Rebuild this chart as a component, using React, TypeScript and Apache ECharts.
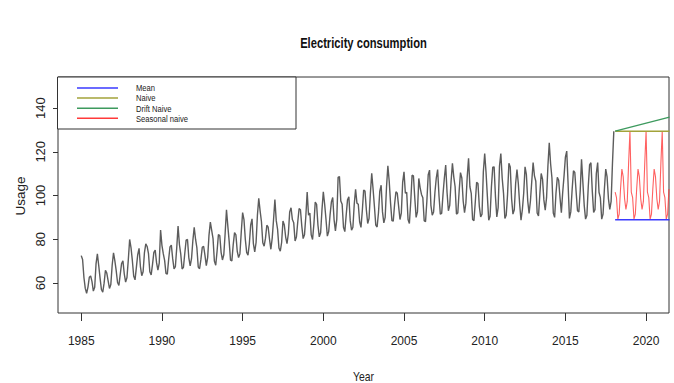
import React, { useEffect, useRef } from "react";
import * as echarts from "echarts";

const startYear = 1985;
const usage1985to1989 = [
  72.5, 70.7, 62.5, 57.5, 55.3, 58.1, 62.6, 63.2, 60.6, 56.3, 58.0, 68.7,
  73.3, 68.0, 62.2, 57.0, 55.8, 59.9, 65.8, 64.5, 61.0, 57.5, 59.3, 68.1,
  73.8, 70.1, 65.6, 60.2, 58.9, 63.9, 68.9, 70.1, 64.1, 60.4, 62.5, 70.6,
  79.9, 76.2, 70.3, 63.2, 61.4, 67.1, 73.0, 75.8, 67.5, 63.3, 65.1, 73.9,
  77.9, 76.7, 73.4, 65.1, 63.7, 68.5, 74.0, 75.0, 69.3, 65.9, 69.1, 84.2,
];
const usage1990to1994 = [
  77.2, 73.4, 70.3, 64.4, 64.0, 70.8, 76.5, 77.3, 71.1, 66.4, 67.5, 76.0,
  86.0, 77.6, 73.2, 66.4, 67.2, 73.6, 79.6, 79.9, 71.5, 67.8, 71.1, 79.4,
  85.4, 80.0, 76.0, 67.3, 66.5, 70.9, 76.3, 76.8, 72.6, 67.9, 71.6, 81.9,
  87.8, 84.0, 80.3, 70.0, 68.1, 74.5, 82.1, 81.7, 74.0, 70.5, 72.9, 82.6,
  93.5, 86.0, 79.0, 70.4, 70.1, 77.5, 83.0, 82.0, 74.5, 71.6, 73.4, 83.4,
];
const usage1995to1999 = [
  92.2, 89.0, 80.0, 74.0, 72.7, 78.0, 86.5, 89.3, 78.0, 74.2, 78.5, 91.0,
  98.7, 93.0, 88.0, 78.4, 76.8, 80.5, 86.4, 85.5, 80.0, 75.4, 80.5, 89.0,
  98.1, 88.5, 84.5, 76.0, 74.5, 78.5, 88.3, 86.5, 81.0, 78.0, 82.5, 92.5,
  94.4, 89.0, 87.5, 79.2, 81.0, 88.0, 94.0, 93.5, 86.0, 80.3, 82.0, 90.5,
  101.6, 91.0, 92.0, 82.0, 79.9, 87.0, 97.0, 96.0, 86.5, 81.1, 83.0, 93.5,
];
const usage2000to2004 = [
  101.7, 96.0, 89.0, 81.4, 83.5, 91.0, 97.0, 99.1, 89.0, 83.8, 89.0, 108.3,
  108.7, 97.5, 96.0, 85.5, 83.5, 91.0, 98.0, 99.4, 88.5, 84.1, 85.5, 96.0,
  102.8, 96.5, 96.0, 88.0, 85.4, 93.0, 102.5, 102.0, 93.5, 87.2, 89.5, 101.0,
  110.1, 103.0, 95.0, 86.5, 85.6, 92.0, 102.0, 104.7, 92.5, 87.5, 90.0, 104.0,
  113.6, 106.5, 96.5, 88.5, 88.3, 96.0, 101.7, 101.0, 95.0, 89.0, 92.0, 106.0,
];
const usage2005to2009 = [
  110.8, 101.0, 101.5, 89.0, 87.2, 97.0, 109.3, 109.0, 99.0, 90.0, 92.5, 107.8,
  103.5, 100.5, 99.0, 88.5, 88.0, 97.5, 109.5, 111.6, 95.5, 91.0, 92.5, 101.5,
  108.0, 111.9, 100.0, 91.5, 91.8, 100.5, 108.0, 113.9, 101.5, 93.0, 95.5, 106.5,
  114.7, 108.5, 104.0, 91.5, 92.0, 102.0, 110.5, 108.0, 97.5, 92.1, 96.5, 108.5,
  117.0, 104.0, 101.0, 89.0, 88.5, 97.0, 106.0, 105.5, 95.0, 90.2, 91.5, 111.0,
];
const usage2010to2014 = [
  119.2, 110.5, 99.5, 88.7, 90.5, 104.0, 113.0, 113.1, 99.5, 90.2, 94.5, 113.5,
  119.2, 108.0, 101.0, 89.5, 91.0, 100.5, 114.7, 113.0, 98.5, 91.5, 93.5, 105.5,
  111.9, 105.5, 96.0, 88.7, 93.5, 101.0, 113.1, 109.5, 97.5, 91.8, 97.5, 106.5,
  115.1, 109.0, 106.5, 92.0, 90.6, 100.5, 110.1, 107.5, 98.0, 93.3, 99.0, 113.5,
  124.1, 114.5, 108.0, 92.0, 90.0, 101.0, 108.3, 107.0, 99.0, 92.1, 101.5, 109.0,
];
const usage2015to2018 = [
  117.5, 120.3, 105.5, 89.5, 92.5, 102.5, 111.3, 110.5, 101.5, 93.0, 92.5, 102.0,
  116.6, 106.0, 95.5, 89.2, 91.0, 104.0, 114.0, 115.0, 102.0, 92.3, 93.5, 110.0,
  115.1, 101.5, 99.0, 89.2, 91.5, 103.0, 112.1, 108.5, 98.6, 93.6, 97.3, 114.7,
  129.4,
];

const xTicks = [1985, 1990, 1995, 2000, 2005, 2010, 2015, 2020];
const yTicks = [60, 80, 100, 120, 140];
const legendLabels = ["Mean", "Naive", "Drift Naive", "Seasonal naive"];
const legendColors = ["#3a3aff", "#a3a33a", "#3d9a5e", "#ff3a3a"];

const forecastStart = 2018 + 1 / 12;
const forecastEnd = 2021.45;
const forecastMonths = 41;
const meanLevel = 88.9;
const naiveLevel = 129.4;
const driftEndLevel = 135.9;
const seasonalNaiveCycle = [101.5, 99.0, 89.2, 91.5, 103.0, 112.1, 108.5, 98.6, 93.6, 97.3, 114.7, 129.4];

const FONT = "'Liberation Sans', Arial, sans-serif";

export default function App() {
  const ref = useRef<HTMLDivElement>(null);
  useEffect(() => {
    if (!ref.current) return;
    const chart = echarts.init(ref.current, null, { renderer: "svg" });
    const usage = [
      ...usage1985to1989,
      ...usage1990to1994,
      ...usage1995to1999,
      ...usage2000to2004,
      ...usage2005to2009,
      ...usage2010to2014,
      ...usage2015to2018,
    ];
    const mainData = usage.map((v, i) => [startYear + i / 12, v]);
    const seasonalData: number[][] = [];
    for (let k = 0; k < forecastMonths; k++) {
      seasonalData.push([forecastStart + k / 12, seasonalNaiveCycle[k % 12]]);
    }
    const legendY = [88, 98, 108.3, 118.3];
    const legendChildren: any[] = [
      {
        type: "rect",
        shape: { x: 57.5, y: 77, width: 238.5, height: 52 },
        style: { fill: "#fff", stroke: "#333", lineWidth: 1 },
      },
    ];
    legendLabels.forEach((lab, i) => {
      legendChildren.push({
        type: "line",
        shape: { x1: 77, y1: legendY[i], x2: 118, y2: legendY[i] },
        style: { stroke: legendColors[i], lineWidth: 1.6 },
      });
      legendChildren.push({
        type: "text",
        x: 136,
        y: legendY[i],
        scaleX: 0.8,
        style: {
          text: lab,
          fill: "#222",
          font: `9.5px ${FONT}`,
          textVerticalAlign: "middle",
          verticalAlign: "middle",
        },
      });
    });

    const option: any = {
      animation: false,
      backgroundColor: "#ffffff",
      grid: {
        left: 58,
        top: 77,
        right: 5,
        bottom: 70,
        show: true,
        borderColor: "#333",
        borderWidth: 1,
        backgroundColor: "transparent",
        containLabel: false,
      },
      xAxis: {
        type: "value",
        min: 1983.56,
        max: 2021.42,
        splitLine: { show: false },
        axisLine: { show: false },
        axisTick: {
          show: true,
          customValues: xTicks,
          length: 8,
          lineStyle: { color: "#333", width: 1 },
        },
        axisLabel: {
          customValues: xTicks,
          margin: 22,
          fontSize: 12,
          fontFamily: FONT,
          color: "#222",
          formatter: (v: number) => String(v),
        },
      },
      yAxis: {
        type: "value",
        min: 46.26,
        max: 154.2,
        splitLine: { show: false },
        axisLine: { show: false },
        axisTick: {
          show: true,
          customValues: yTicks,
          length: 5,
          lineStyle: { color: "#333", width: 1 },
        },
        axisLabel: {
          customValues: yTicks,
          rotate: 90,
          margin: 11,
          fontSize: 13,
          fontFamily: FONT,
          color: "#222",
          formatter: (v: number) => String(v),
        },
      },
      series: [
        {
          type: "line",
          data: mainData,
          showSymbol: false,
          lineStyle: { color: "#5c5c5c", width: 1.4 },
          z: 3,
        },
        {
          type: "line",
          data: [
            [forecastStart, meanLevel],
            [forecastEnd, meanLevel],
          ],
          showSymbol: false,
          lineStyle: { color: legendColors[0], width: 1.4 },
          z: 4,
        },
        {
          type: "line",
          data: [
            [forecastStart, naiveLevel],
            [forecastEnd, naiveLevel],
          ],
          showSymbol: false,
          lineStyle: { color: legendColors[1], width: 1.4 },
          z: 4,
        },
        {
          type: "line",
          data: [
            [forecastStart, naiveLevel],
            [forecastEnd, driftEndLevel],
          ],
          showSymbol: false,
          lineStyle: { color: legendColors[2], width: 1.3 },
          z: 4,
        },
        {
          type: "line",
          data: seasonalData,
          showSymbol: false,
          lineStyle: { color: legendColors[3], width: 1.1, opacity: 0.8 },
          z: 3,
        },
      ],
      graphic: [
        {
          type: "text",
          x: 363.5,
          y: 43.5,
          scaleX: 0.8,
          style: {
            text: "Electricity consumption",
            fill: "#111",
            font: `bold 14px ${FONT}`,
            textAlign: "center",
            textVerticalAlign: "middle",
            align: "center",
            verticalAlign: "middle",
          },
        },
        {
          type: "text",
          x: 363.5,
          y: 376,
          scaleX: 0.8,
          style: {
            text: "Year",
            fill: "#222",
            font: `13px ${FONT}`,
            textAlign: "center",
            textVerticalAlign: "middle",
            align: "center",
            verticalAlign: "middle",
          },
        },
        {
          type: "text",
          x: 20,
          y: 196,
          rotation: Math.PI / 2,
          style: {
            text: "Usage",
            fill: "#222",
            font: `13.5px ${FONT}`,
            textAlign: "center",
            textVerticalAlign: "middle",
            align: "center",
            verticalAlign: "middle",
          },
        },
        {
          type: "group",
          z: 100,
          children: legendChildren,
        },
      ],
    };
    chart.setOption(option);
    return () => chart.dispose();
  }, []);
  return (
    <div
      ref={ref}
      style={{ position: "fixed", left: 0, top: 0, width: 674, height: 383, background: "#fff" }}
    />
  );
}
